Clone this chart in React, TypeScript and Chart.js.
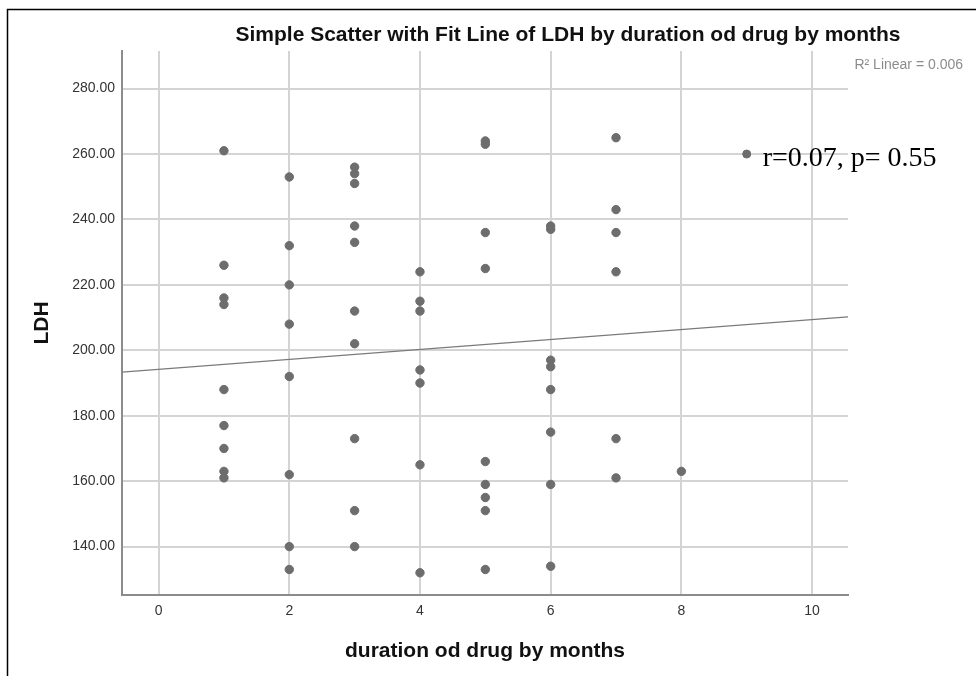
import React, { useEffect, useRef } from "react";
import { Chart, registerables } from "chart.js";

Chart.register(...registerables);

// ---- text ----
const chartTitle = "Simple Scatter with Fit Line of LDH by duration od drug by months";
const xAxisTitle = "duration od drug by months";
const yAxisTitle = "LDH";
const fitLabel = "R\u00B2 Linear = 0.006";
const annotationText = "r=0.07, p= 0.55";

// ---- data (LDH values grouped by duration in months) ----
const durationMonths = [1, 2, 3, 4, 5, 6, 7, 8];
const ldhMonth1 = [261, 226, 216, 214, 188, 177, 170, 163, 161];
const ldhMonth2 = [253, 232, 220, 208, 192, 162, 140, 133];
const ldhMonth3 = [256, 254, 251, 238, 233, 212, 202, 173, 151, 140];
const ldhMonth4 = [224, 215, 212, 194, 190, 165, 132];
const ldhMonth5 = [264, 263, 236, 225, 166, 159, 155, 151, 133];
const ldhMonth6 = [238, 237, 197, 195, 188, 175, 159, 134];
const ldhMonth7 = [265, 243, 236, 224, 173, 161];
const ldhMonth8 = [163];
const ldhByMonth = [ldhMonth1, ldhMonth2, ldhMonth3, ldhMonth4, ldhMonth5, ldhMonth6, ldhMonth7, ldhMonth8];

// annotation marker next to the r / p text
const annotationMarkerX = [9];
const annotationMarkerY = [260];

// ---- axes ----
const xTickValues = [0, 2, 4, 6, 8, 10];
const yTickValues = [140, 160, 180, 200, 220, 240, 260, 280];
const xRange = [-0.56, 10.55];
const yRange = [125.2, 291.5];

// ---- linear fit ----
const fitIntercept = 194.2;
const fitSlope = 1.52;

const SANS = '"Liberation Sans", Arial, Helvetica, sans-serif';
const SERIF = '"Liberation Serif", "Times New Roman", serif';
const POINT_COLOR = "#6d6d6d";
const GRID_COLOR = "#d4d4d4";
const AXIS_COLOR = "#8c8c8c";

const overlayPlugin = {
  id: "overlayText",
  beforeDraw(chart: any) {
    const { ctx } = chart;
    ctx.save();
    ctx.fillStyle = "#ffffff";
    ctx.fillRect(0, 0, chart.width, chart.height);
    ctx.strokeStyle = "#000000";
    ctx.lineWidth = 1.5;
    ctx.beginPath();
    ctx.moveTo(7.5, chart.height);
    ctx.lineTo(7.5, 9.5);
    ctx.lineTo(chart.width, 9.5);
    ctx.stroke();
    ctx.restore();
  },
  afterDraw(chart: any) {
    const { ctx, scales } = chart;
    ctx.save();
    ctx.fillStyle = "#111111";
    ctx.font = `bold 21px ${SANS}`;
    ctx.textAlign = "center";
    ctx.textBaseline = "middle";
    ctx.fillText(chartTitle, 568, 35);

    ctx.fillStyle = "#8c8c8c";
    ctx.font = `14px ${SANS}`;
    ctx.textAlign = "right";
    ctx.fillText(fitLabel, 963, 65);

    ctx.fillStyle = "#000000";
    ctx.font = `28px ${SERIF}`;
    ctx.textAlign = "left";
    ctx.textBaseline = "alphabetic";
    const ax = scales.x.getPixelForValue(annotationMarkerX[0]) + 16;
    const ay = scales.y.getPixelForValue(annotationMarkerY[0]) + 12;
    ctx.fillText(annotationText, ax, ay);
    ctx.restore();
  },
};

export default function App() {
  const canvasRef = useRef<HTMLCanvasElement>(null);

  useEffect(() => {
    const canvas = canvasRef.current;
    if (!canvas) return;

    const scatterPoints = durationMonths.flatMap((m, i) =>
      ldhByMonth[i].map((v) => ({ x: m, y: v }))
    );
    const markerPoints = annotationMarkerX.map((x, i) => ({ x, y: annotationMarkerY[i] }));
    const fitPoints = xRange.map((x) => ({ x, y: fitIntercept + fitSlope * x }));

    const chart = new Chart(canvas, {
      type: "scatter",
      data: {
        datasets: [
          {
            label: "LDH",
            data: scatterPoints,
            pointRadius: 4.2,
            pointBackgroundColor: POINT_COLOR,
            pointBorderColor: POINT_COLOR,
            pointBorderWidth: 1,
            showLine: false,
            order: 1,
          },
          {
            label: "marker",
            data: markerPoints,
            pointRadius: 4,
            pointBackgroundColor: POINT_COLOR,
            pointBorderColor: POINT_COLOR,
            pointBorderWidth: 1,
            showLine: false,
            order: 1,
          },
          {
            label: "fit",
            data: fitPoints,
            showLine: true,
            pointRadius: 0,
            borderColor: "#7a7a7a",
            borderWidth: 1.2,
            fill: false,
            order: 2,
          } as any,
        ],
      },
      options: {
        responsive: false,
        animation: false,
        devicePixelRatio: 1,
        layout: { padding: { left: 30, top: 51, right: 128, bottom: 12 } },
        plugins: {
          legend: { display: false },
          tooltip: { enabled: false },
          title: { display: false },
        },
        scales: {
          x: {
            type: "linear",
            min: xRange[0],
            max: xRange[1],
            afterBuildTicks: (s: any) => {
              s.ticks = xTickValues.map((v) => ({ value: v }));
            },
            afterFit: (s: any) => {
              s.height = 69;
            },
            grid: { color: GRID_COLOR, lineWidth: 2, drawTicks: false },
            border: { display: true, color: AXIS_COLOR, width: 2 },
            ticks: {
              padding: 8,
              color: "#333333",
              font: { family: SANS, size: 14 },
              callback: (v: any) => String(v),
            },
            title: {
              display: true,
              text: xAxisTitle,
              color: "#111111",
              font: { family: SANS, size: 21, weight: "bold" },
              padding: 0,
            },
          },
          y: {
            type: "linear",
            min: yRange[0],
            max: yRange[1],
            afterBuildTicks: (s: any) => {
              s.ticks = yTickValues.map((v) => ({ value: v }));
            },
            afterFit: (s: any) => {
              s.width = 92;
            },
            grid: { color: GRID_COLOR, lineWidth: 2, drawTicks: false },
            border: { display: true, color: AXIS_COLOR, width: 2 },
            ticks: {
              padding: 7,
              color: "#333333",
              font: { family: SANS, size: 14 },
              callback: (v: any) => Number(v).toFixed(2),
            },
            title: {
              display: true,
              text: yAxisTitle,
              color: "#111111",
              font: { family: SANS, size: 21, weight: "bold" },
              padding: 0,
            },
          },
        },
      },
      plugins: [overlayPlugin],
    } as any);

    return () => chart.destroy();
  }, []);

  return (
    <div style={{ position: "fixed", left: 0, top: 0, width: 976, height: 676, background: "#fff" }}>
      <canvas ref={canvasRef} width={976} height={676} style={{ display: "block", width: 976, height: 676 }} />
    </div>
  );
}
